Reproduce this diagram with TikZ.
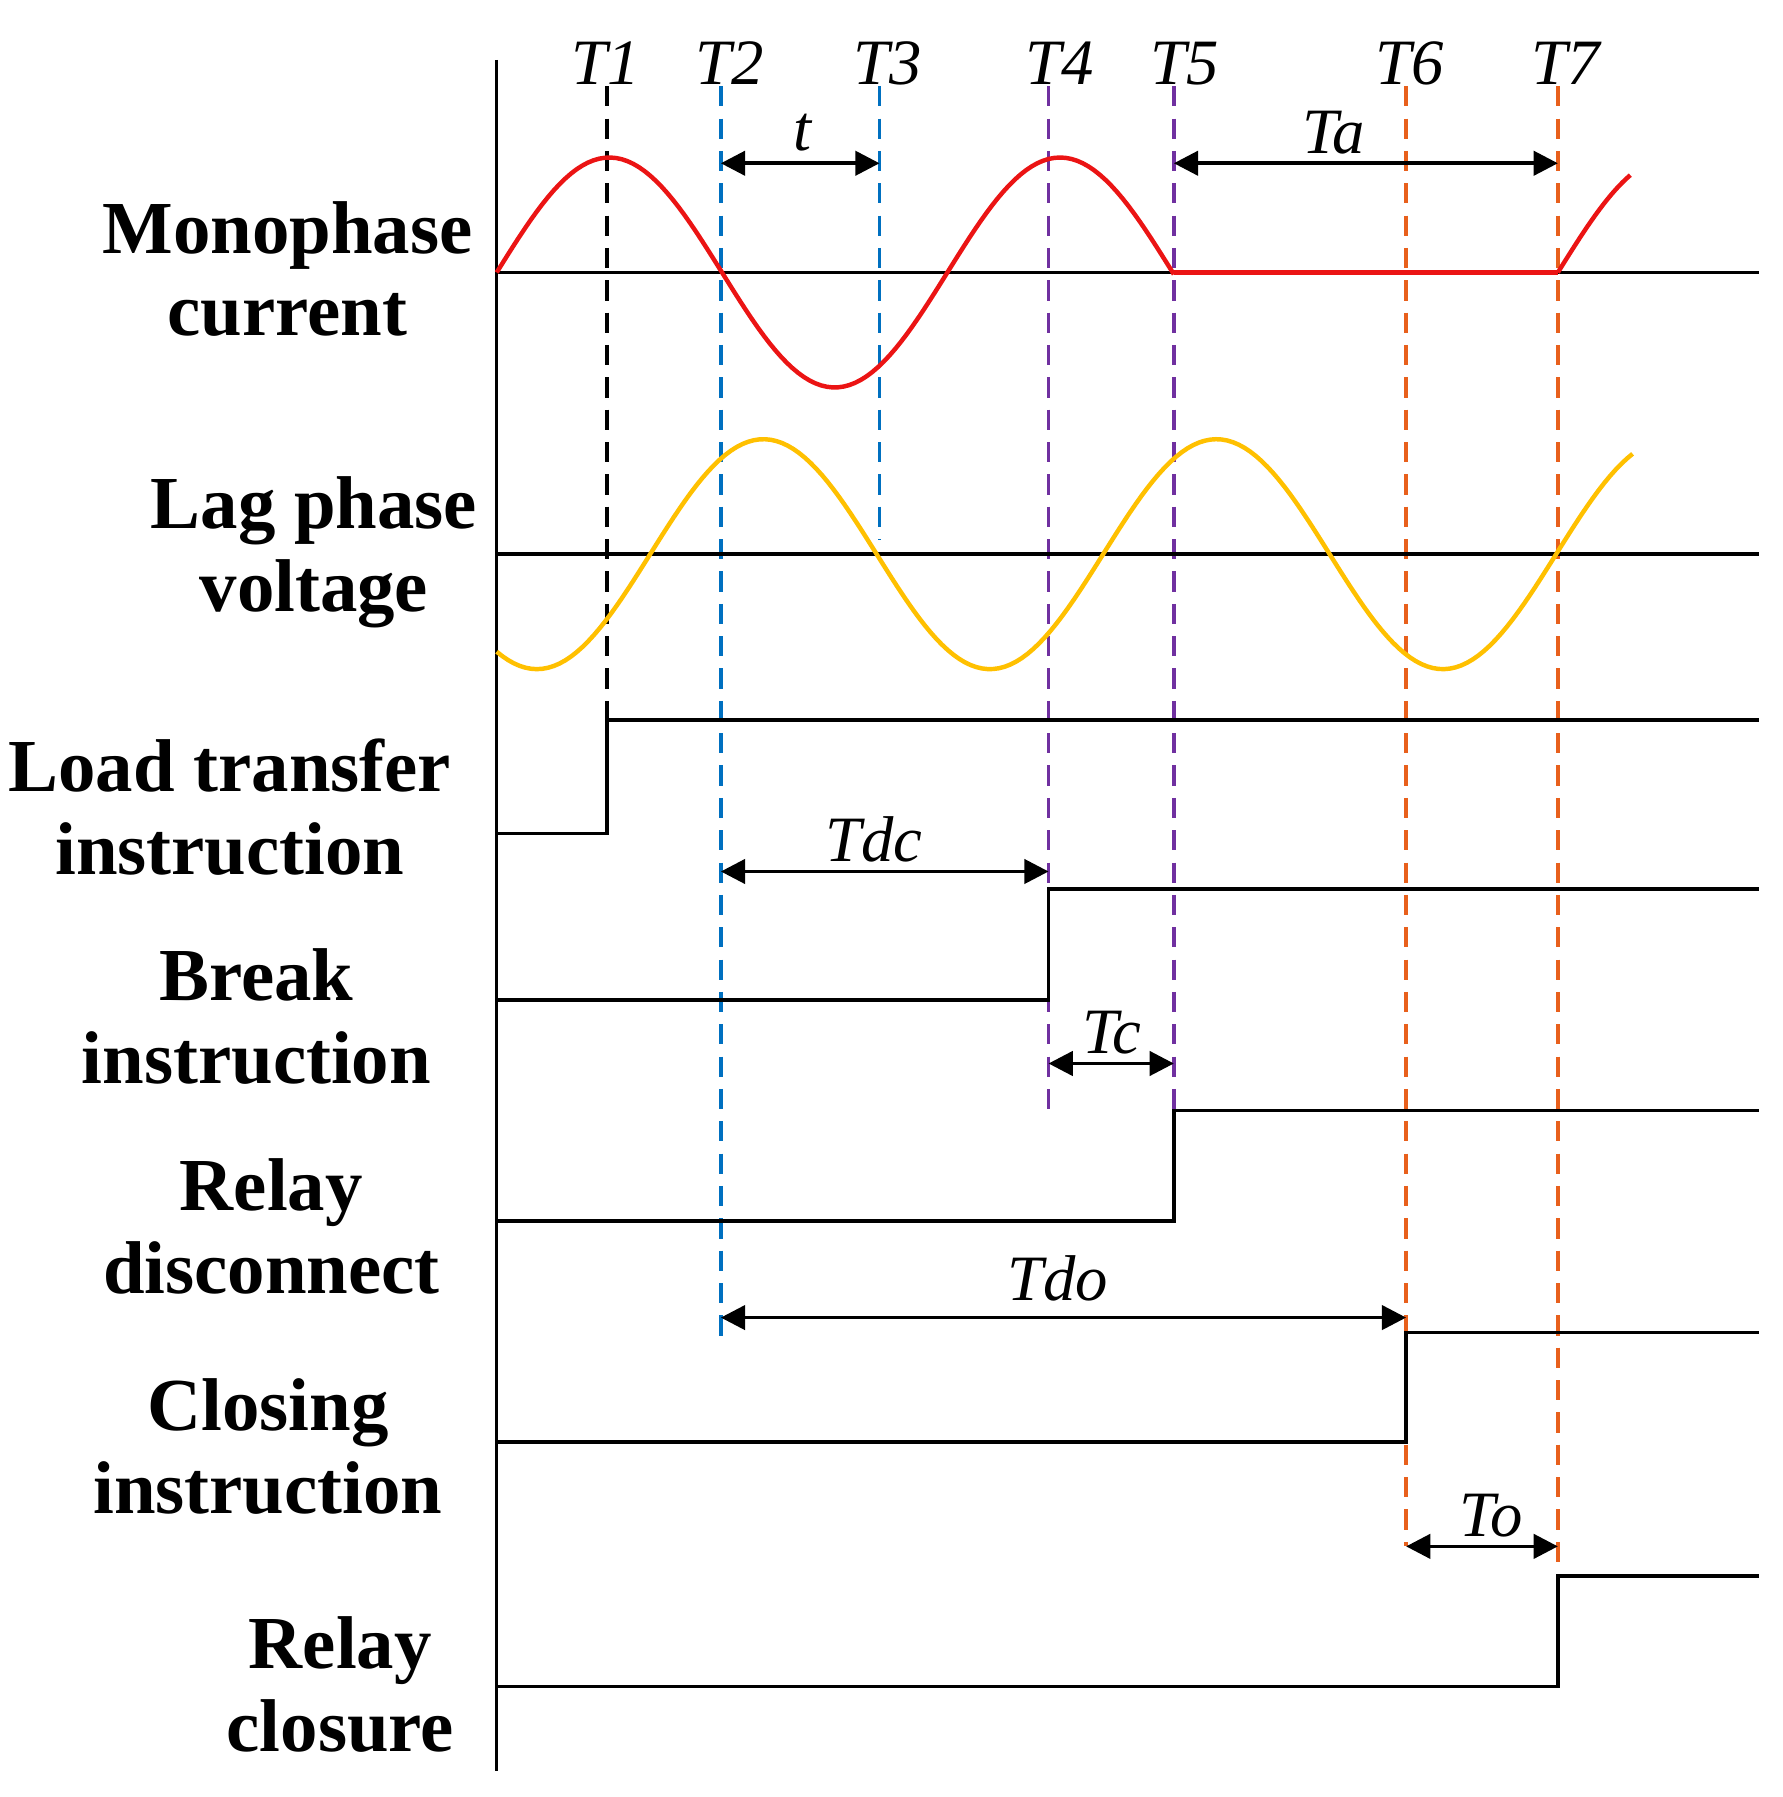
\documentclass[tikz,border=0pt]{standalone}
\usepackage{fontspec}
\setmainfont{Liberation Serif}
\usetikzlibrary{arrows.meta}
\definecolor{cred}{RGB}{235,20,20}
\definecolor{cyel}{RGB}{255,192,0}
\definecolor{cblue}{RGB}{0,112,192}
\definecolor{cpur}{RGB}{112,48,160}
\definecolor{corg}{RGB}{232,96,28}
\tikzset{
  sig/.style={line width=0.9pt,black},
  wave/.style={line width=1.1pt},
  guide/.style={line width=0.9pt,dash pattern=on 5pt off 3pt},
  dim/.style={line width=0.9pt,{Triangle[width=6pt,length=6pt]}-{Triangle[width=6pt,length=6pt]}},
  lab/.style={font=\fontsize{18.5}{20.5}\selectfont\bfseries,align=center},
  tlab/.style={font=\fontsize{16}{18}\selectfont\itshape}
}
\begin{document}
\begin{tikzpicture}[x=0.01cm,y=-0.01cm]
\useasboundingbox (0,0) rectangle (1550,1563);
% guides
\draw[guide,black] (528,75) -- (528,626);
\draw[guide,cblue] (627,75) -- (627,1165);
\draw[guide,cblue] (765,75) -- (765,470);
\draw[guide,cpur] (912,75) -- (912,965);
\draw[guide,cpur] (1021,75) -- (1021,966);
\draw[guide,corg] (1223,75) -- (1223,1345);
\draw[guide,corg] (1355,75) -- (1355,1371);
% axis
\draw[sig] (432,52) -- (432,1540);
% baselines
\draw[sig] (432,237) -- (1530,237);
\draw[sig] (432,482) -- (1530,482);
% waves
\draw[wave,cred,domain=432:1021,samples=120] plot (\x,{237-100*sin(0.918367*(\x-432))});
\draw[wave,cred] (1021,237) -- (1355,237);
\draw[wave,cred,domain=1355:1418,samples=20] plot (\x,{237-100*sin(0.918367*(\x-1355))});
\draw[wave,cyel,domain=432:1420,samples=200] plot (\x,{482+100*cos(0.913706*(\x-467))});
% step signals
\draw[sig] (432,725) -- (528,725) -- (528,626) -- (1530,626);
\draw[sig] (432,870) -- (912,870) -- (912,773) -- (1530,773);
\draw[sig] (432,1062) -- (1021,1062) -- (1021,966) -- (1530,966);
\draw[sig] (432,1254) -- (1223,1254) -- (1223,1159) -- (1530,1159);
\draw[sig] (432,1467) -- (1355,1467) -- (1355,1371) -- (1530,1371);
% time labels
\node[tlab] (t1) at (527,55) {T1};
\node[tlab] (t2) at (635,55) {T2};
\node[tlab] (t3) at (772,55) {T3};
\node[tlab] (t4) at (922,55) {T4};
\node[tlab] (t5) at (1030,55) {T5};
\node[tlab] (t6) at (1226,55) {T6};
\node[tlab] (t7) at (1362,55) {T7};
% dimension arrows
\coordinate (a1) at (627,142); \coordinate (a2) at (765,142);
\draw[dim] (a1) -- (a2); \node[tlab] (lt) at (698,115) {t};
\coordinate (b1) at (1021,142); \coordinate (b2) at (1355,142);
\draw[dim] (b1) -- (b2); \node[tlab] (lta) at (1160,115) {Ta};
\coordinate (c1) at (627,758); \coordinate (c2) at (912,758);
\draw[dim] (c1) -- (c2); \node[tlab] (ltdc) at (760,730) {Tdc};
\coordinate (d1) at (912,925); \coordinate (d2) at (1021,925);
\draw[dim] (d1) -- (d2); \node[tlab] (ltc) at (967,898) {Tc};
\coordinate (e1) at (627,1146); \coordinate (e2) at (1223,1146);
\draw[dim] (e1) -- (e2); \node[tlab] (ltdo) at (920,1112) {Tdo};
\coordinate (f1) at (1223,1345); \coordinate (f2) at (1355,1345);
\draw[dim] (f1) -- (f2); \node[tlab] (lto) at (1297,1318) {To};
% signal labels
\node[lab] (l1) at (250,234) {Monophase\\current};
\node[lab] (l2) at (273,480) {Lag phase\\voltage};
\node[lab] (l3) at (200,702) {Load transfer\\instruction};
\node[lab] (l4) at (223,884) {Break\\instruction};
\node[lab] (l5) at (236,1067) {Relay\\disconnect};
\node[lab] (l6) at (233,1258) {Closing\\instruction};
\node[lab] (l7) at (296,1465) {Relay\\closure};
\end{tikzpicture}
\end{document}
